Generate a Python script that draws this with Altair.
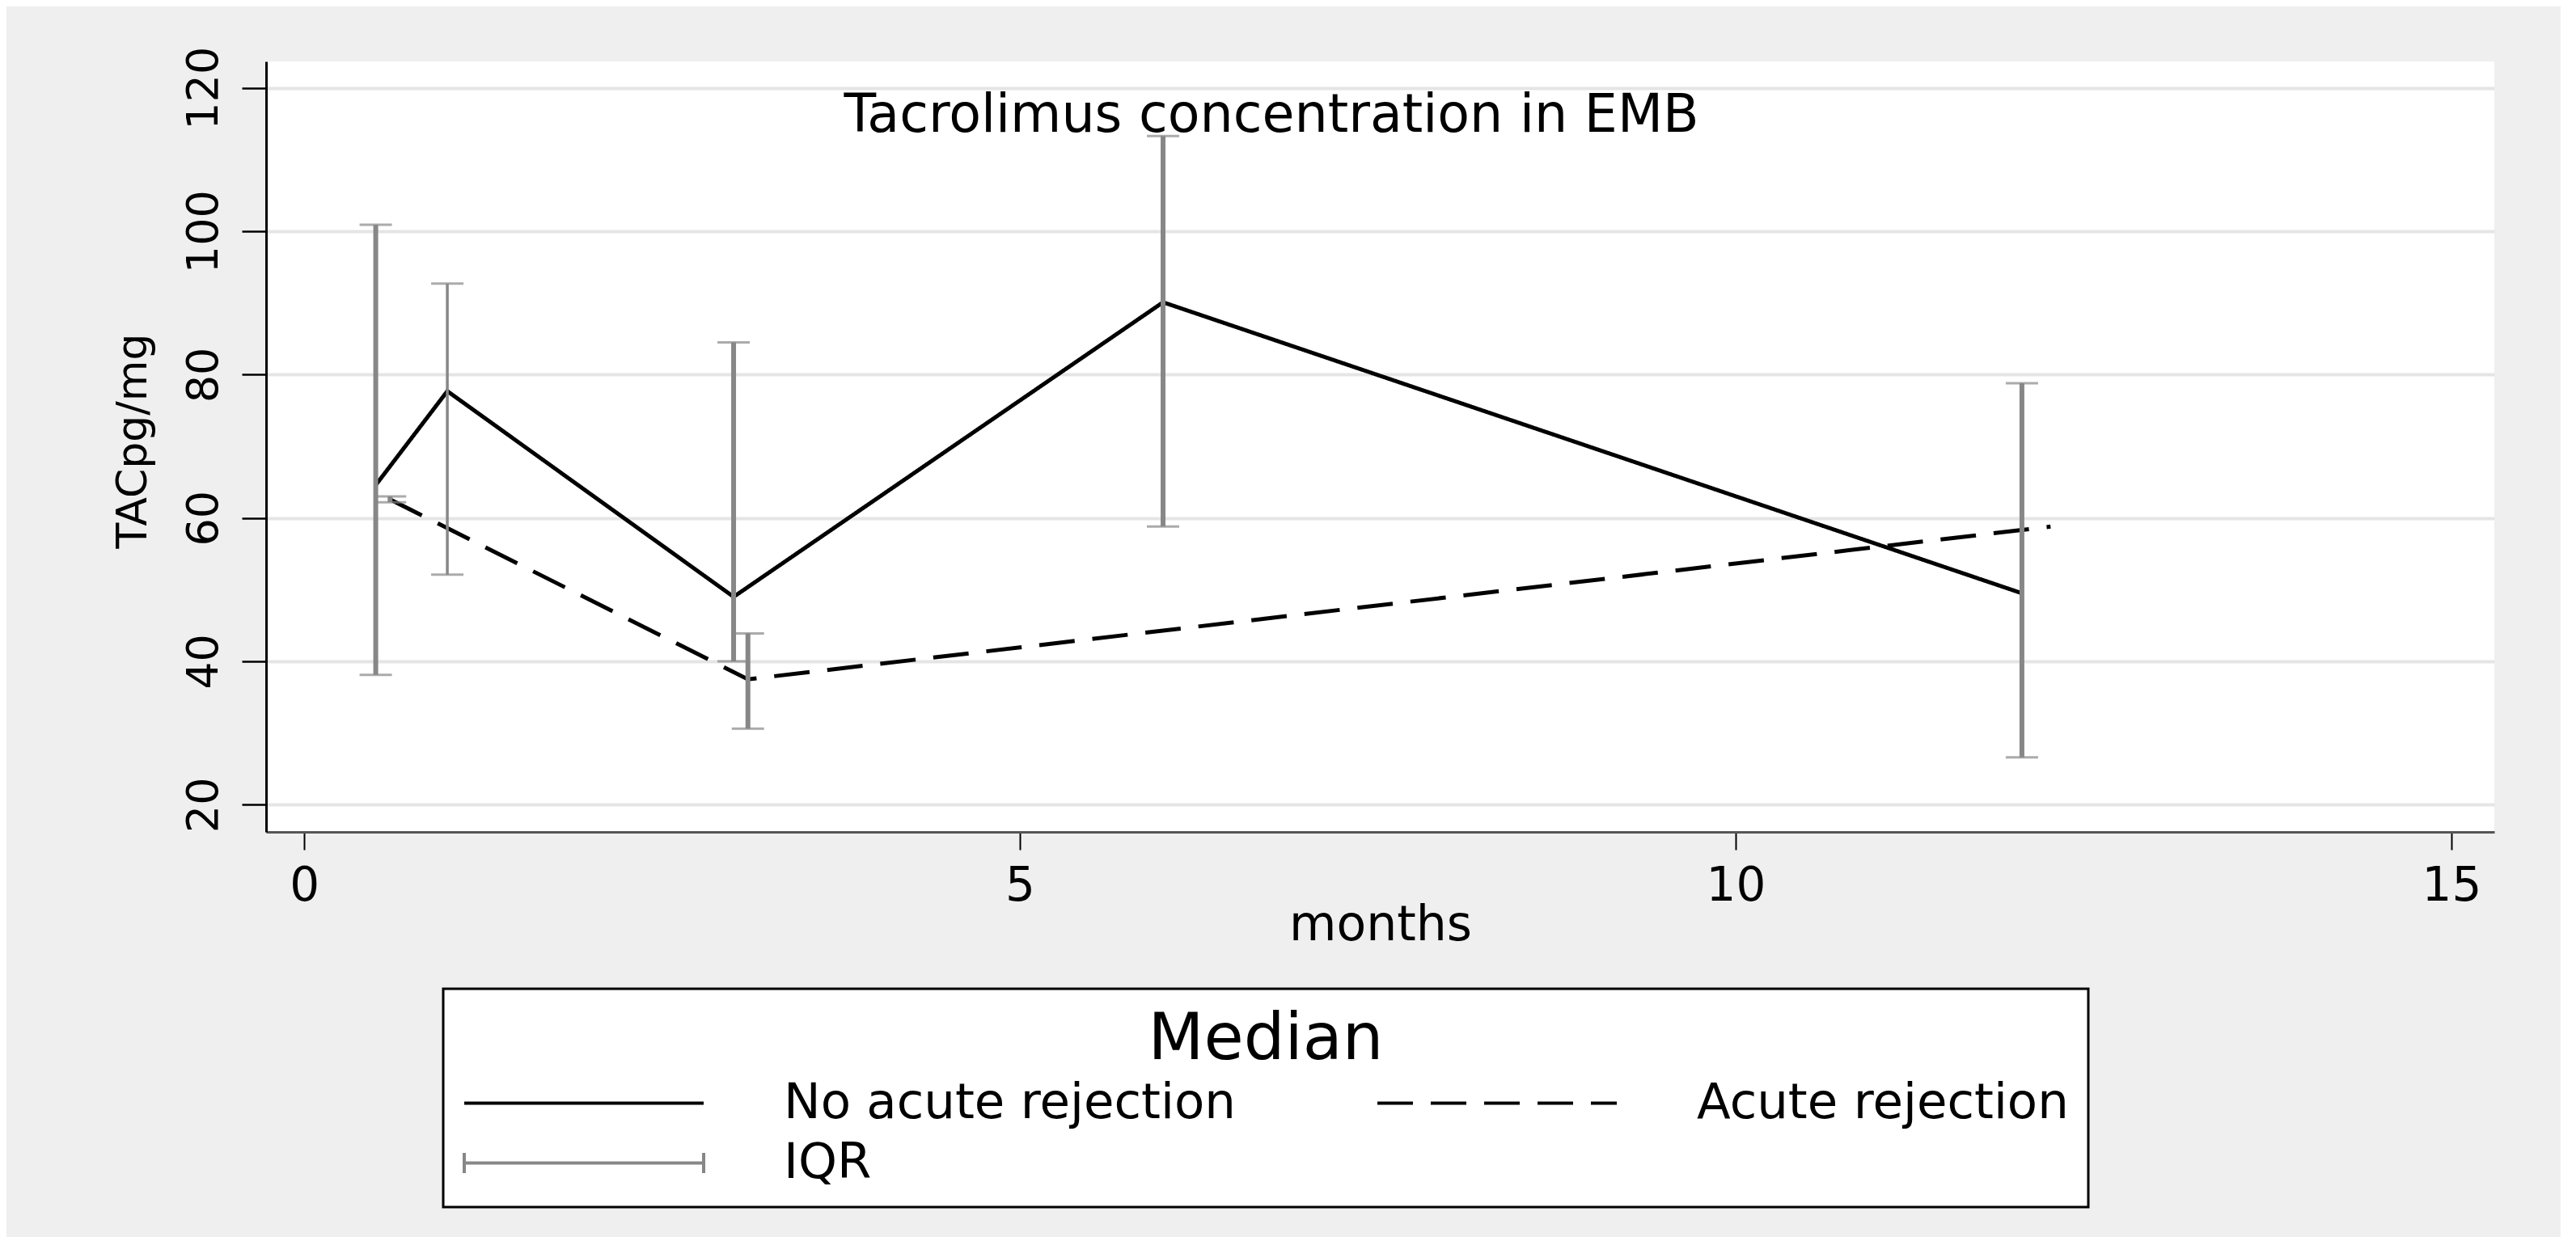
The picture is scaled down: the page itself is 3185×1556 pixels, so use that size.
import altair as alt
import pandas as pd

# ---------------- data ----------------
series_names = ["No acute rejection", "Acute rejection", "IQR"]

months_no = [0.5, 1, 3, 6, 12]
median_no = [64.6, 77.7, 49.0, 90.1, 49.5]
q1_no = [38.1, 52.1, 40.0, 58.8, 26.6]
q3_no = [100.9, 92.7, 84.5, 113.3, 78.8]

months_ar = [0.6, 3.1, 12.2]
median_ar = [62.6, 37.5, 58.8]
months_ar_iqr = [0.6, 3.1]
q1_ar = [62.2, 30.6]
q3_ar = [63.0, 43.9]

x_ticks = [0, 5, 10, 15]
y_ticks = [20, 40, 60, 80, 100, 120]

title_text = "Tacrolimus concentration in EMB"
x_title = "months"
y_title = "TACpg/mg"
legend_title = "Median"

# title annotation anchor (in data units, inside the plot as in the original)
title_month = 6.757
title_value = 113.9

# ---------------- tables ----------------
line_df = pd.DataFrame({
    "month": months_no + months_ar,
    "median": median_no + median_ar,
    "series": [series_names[0]] * len(months_no) + [series_names[1]] * len(months_ar),
})
iqr_df = pd.DataFrame({
    "month": months_no + months_ar_iqr,
    "q1": q1_no + q1_ar,
    "q3": q3_no + q3_ar,
    "series": [series_names[2]] * (len(months_no) + len(months_ar_iqr)),
})
title_df = pd.DataFrame({"label": [title_text], "month": [title_month], "value": [title_value]})

FONT = "DejaVu Sans"
GRAY = "#878787"

x_scale = alt.Scale(domain=[-0.266, 15.3], nice=False, zero=False)
y_scale = alt.Scale(domain=[16.2, 123.7], nice=False, zero=False)
color_scale = alt.Scale(domain=series_names, range=["black", "black", GRAY])
dash_scale = alt.Scale(domain=series_names, range=[[1, 0], [44, 22], [1, 0]])
iqr_path = "M-1,-0.085L-1,0.085M-1,0L1,0M1,-0.085L1,0.085"
shape_scale = alt.Scale(domain=series_names, range=["stroke", "stroke", iqr_path])

W, H = 2755, 953

x_axis = alt.Axis(
    values=x_ticks, title=x_title, grid=False, format="d",
    domainColor="#555555", domainWidth=3,
    tickColor="black", tickWidth=2, tickSize=22,
    labelFont=FONT, labelFontSize=58, labelColor="black", labelPadding=16,
    labelBaseline="top", labelFlush=False, labelOverlap=False,
    titleFont=FONT, titleFontSize=60, titleFontWeight="normal", titleColor="black",
    titleX=W / 2, titleY=133.5, titleBaseline="alphabetic", titleAlign="center",
)
y_axis = alt.Axis(
    values=y_ticks, title=y_title, grid=True, gridColor="#e5e5e5", gridWidth=4, format="d",
    domainColor="black", domainWidth=3,
    tickColor="black", tickWidth=2.5, tickSize=30,
    labelFont=FONT, labelFontSize=54, labelColor="black", labelAngle=270,
    labelAlign="center", labelBaseline="alphabetic", labelPadding=31,
    labelFlush=False, labelOverlap=False,
    titleFont=FONT, titleFontSize=52, titleFontWeight="normal", titleColor="black",
    titleAngle=270, titleAlign="center", titleBaseline="alphabetic",
    titleX=-149, titleY=469,
)

legend = alt.Legend(
    title=legend_title, orient="none", legendX=219, legendY=1147,
    direction="horizontal", columns=2, gridAlign="all", columnPadding=173,
    rowPadding=12, padding=24,
    symbolType="stroke", symbolSize=87616, symbolStrokeWidth=4, symbolOffset=0,
    labelOffset=97, labelFont=FONT, labelFontSize=61, labelColor="black", labelLimit=3000,
    titleFont=FONT, titleFontSize=80, titleFontWeight="normal", titleColor="black",
    titleAnchor="middle", titlePadding=7, titleLimit=3000, clipHeight=61,
    strokeColor="black", fillColor="white",
)

bars = alt.Chart(iqr_df).mark_rule().encode(
    x=alt.X("month:Q", scale=x_scale, axis=x_axis),
    y=alt.Y("q1:Q", scale=y_scale, axis=y_axis),
    y2="q3:Q",
    color=alt.Color("series:N", scale=color_scale, legend=None),
    strokeWidth=alt.condition(alt.datum.month == 1, alt.value(3.5), alt.value(6)),
)

caps = alt.Chart(iqr_df).transform_fold(["q1", "q3"], as_=["end", "val"]).mark_tick(
    orient="horizontal", size=40, thickness=3
).encode(
    x=alt.X("month:Q", scale=x_scale),
    y=alt.Y("val:Q", scale=y_scale),
    color=alt.Color("series:N", scale=color_scale, legend=None),
)

lines = alt.Chart(line_df).mark_line(strokeWidth=5).encode(
    x=alt.X("month:Q", scale=x_scale),
    y=alt.Y("median:Q", scale=y_scale),
    color=alt.Color("series:N", scale=color_scale, legend=legend),
    strokeDash=alt.StrokeDash("series:N", scale=dash_scale),
)

# legend-only layer: supplies the I-beam glyph for the IQR entry (draws no points)
shapes = alt.Chart(line_df).transform_filter("false").mark_point(
    filled=False, opacity=1, strokeWidth=4
).encode(
    x=alt.X("month:Q", scale=x_scale),
    y=alt.Y("median:Q", scale=y_scale),
    shape=alt.Shape("series:N", scale=shape_scale),
)

title_mark = alt.Chart(title_df).mark_text(
    font=FONT, fontSize=65, fontWeight="normal", color="black",
    align="center", baseline="alphabetic",
).encode(
    x=alt.X("month:Q", scale=x_scale),
    y=alt.Y("value:Q", scale=y_scale),
    text="label:N",
)

chart = alt.layer(lines, bars, caps, shapes, title_mark).properties(
    width=W, height=H,
    padding={"left": 321, "top": 68, "right": 82, "bottom": 501},
    autosize=alt.AutoSizeParams(type="none"),
    background="#efefef",
).configure_view(fill="white", stroke=None).configure_legend(strokeWidth=3)

chart.save("out.html", embed_options={"renderer": "svg", "actions": False})
